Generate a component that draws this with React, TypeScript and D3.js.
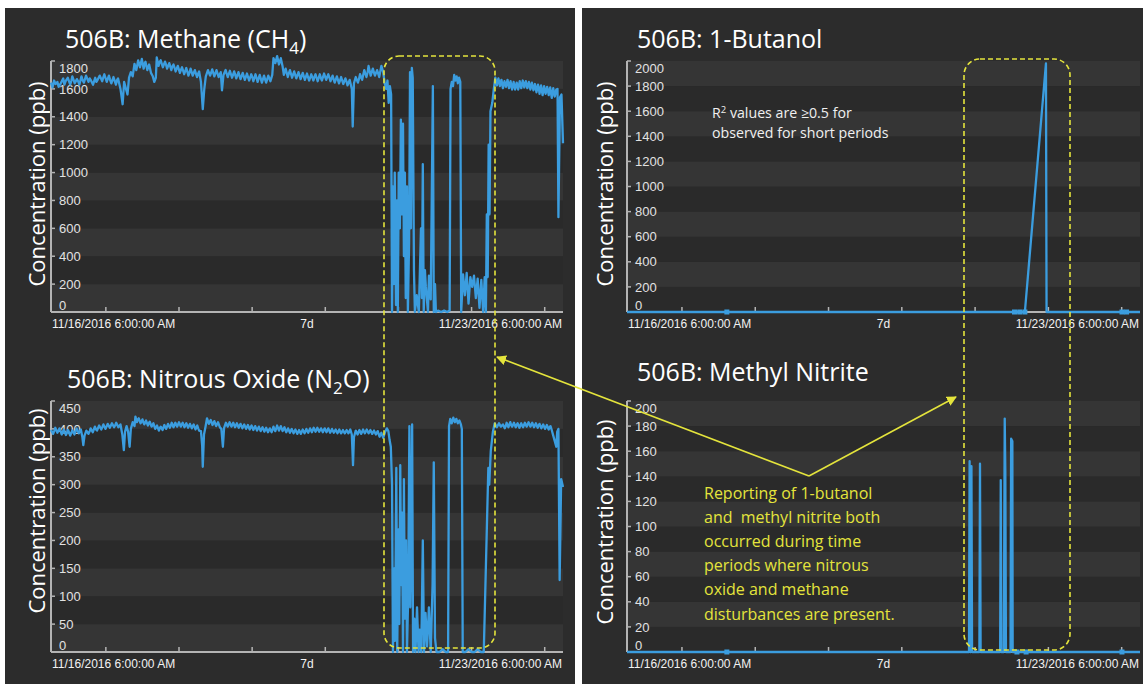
import React from 'react'
import * as d3 from 'd3'

type Pt = [number, number] // [hours after 11/16/2016 6:00 AM, ppb]

const START = new Date(2016, 10, 16, 6, 0, 0)
const END = new Date(2016, 10, 23, 6, 0, 0)

const xTickLabels = ['11/16/2016 6:00:00 AM', '7d', '11/23/2016 6:00:00 AM']

const methaneTicks = [0, 200, 400, 600, 800, 1000, 1200, 1400, 1600, 1800]
const nitrousTicks = [0, 50, 100, 150, 200, 250, 300, 350, 400, 450]
const butanolTicks = [0, 200, 400, 600, 800, 1000, 1200, 1400, 1600, 1800, 2000]
const nitriteTicks = [0, 20, 40, 60, 80, 100, 120, 140, 160, 180, 200]

const methane: Pt[] = [
  [0, 1645], [0.5, 1610], [1, 1660], [1.5, 1635], [2.1, 1650], [2.5, 1615], [3.2, 1640], [4, 1675], [4.4, 1630],
  [4.8, 1655], [5.5, 1680], [6.3, 1630], [6.7, 1660], [7, 1690], [7.8, 1640], [8.5, 1670], [8.9, 1655], [9.3, 1630],
  [10, 1690], [10.4, 1660], [10.8, 1645], [11.5, 1695], [12.3, 1650], [12.7, 1675], [13, 1665], [13.8, 1630],
  [14.5, 1680], [14.9, 1650], [15.3, 1665], [16, 1695], [16.8, 1655], [17.2, 1685], [17.5, 1705], [18.3, 1650],
  [19, 1695], [19.4, 1665], [19.8, 1640], [20.5, 1685], [21.3, 1630], [21.7, 1665], [22, 1675], [22.8, 1600],
  [23.5, 1490], [24, 1650], [24.6, 1600], [25.1, 1560], [25.6, 1680], [26.2, 1720], [26.8, 1690], [27.4, 1780],
  [28, 1735], [28.3, 1770], [28.6, 1805], [29.2, 1755], [29.8, 1815], [30.4, 1745], [30.7, 1780], [31, 1795],
  [31.6, 1735], [32.2, 1775], [32.8, 1715], [33.4, 1690], [33.9, 1650], [34.4, 1680], [34.7, 1825], [35.3, 1765],
  [35.6, 1790], [36, 1805], [36.7, 1755], [37.4, 1795], [37.8, 1770], [38.1, 1745], [38.8, 1785], [39.5, 1735],
  [39.8, 1760], [40.2, 1775], [40.9, 1725], [41.6, 1765], [42.3, 1715], [42.7, 1740], [43, 1755], [43.7, 1705],
  [44.4, 1750], [45.1, 1695], [45.5, 1720], [45.8, 1745], [46.5, 1695], [47.2, 1735], [47.9, 1685], [48.3, 1710],
  [48.6, 1725], [49.2, 1650], [49.8, 1455], [50.3, 1600], [50.8, 1690], [51.5, 1735], [52.2, 1695], [52.6, 1720],
  [52.9, 1740], [53.6, 1690], [54.3, 1735], [55, 1685], [55.7, 1720], [56.1, 1590], [56.6, 1700], [57.3, 1735],
  [57.7, 1705], [58, 1685], [58.7, 1730], [59.4, 1680], [59.8, 1705], [60.1, 1725], [60.8, 1675], [61.5, 1720],
  [61.9, 1690], [62.2, 1670], [62.9, 1715], [63.6, 1665], [64, 1690], [64.3, 1710], [65, 1660], [65.7, 1705],
  [66.1, 1680], [66.4, 1655], [67.1, 1705], [67.8, 1650], [68.2, 1680], [68.5, 1700], [69.2, 1645], [69.9, 1695],
  [70.3, 1665], [70.6, 1645], [71.3, 1695], [72, 1655], [72.6, 1700], [73, 1820], [73.6, 1785], [74.2, 1835],
  [74.8, 1775], [75.4, 1820], [76, 1760], [76.4, 1700], [77, 1745], [77.7, 1685], [78.1, 1715], [78.4, 1735],
  [79.1, 1680], [79.8, 1725], [80.2, 1695], [80.5, 1675], [81.2, 1720], [81.9, 1670], [82.3, 1695], [82.6, 1715],
  [83.3, 1665], [84, 1710], [84.4, 1680], [84.7, 1660], [85.4, 1705], [86.1, 1660], [86.5, 1690], [86.8, 1705],
  [87.5, 1655], [88.2, 1705], [88.6, 1675], [88.9, 1660], [89.6, 1710], [90.3, 1665], [90.7, 1690], [91, 1705],
  [91.7, 1655], [92.4, 1695], [92.8, 1665], [93.1, 1645], [93.8, 1690], [94.5, 1640], [94.9, 1665], [95.2, 1685],
  [95.9, 1635], [96.6, 1675], [97, 1650], [97.3, 1625], [98, 1665], [98.7, 1600], [99, 1330], [99.4, 1640],
  [100, 1685], [100.7, 1645], [101.1, 1675], [101.4, 1705], [102.1, 1665], [102.8, 1735], [103.5, 1685],
  [103.9, 1720], [104.2, 1765], [104.9, 1695], [105.6, 1745], [106, 1715], [106.3, 1695], [107, 1735],
  [107.7, 1685], [108.4, 1765], [109, 1720], [109.5, 1640], [110, 1600], [110.4, 1660], [110.8, 1500],
  [111.2, 1620], [111.6, 1560],
  [111.9, 0], [112.2, 900], [112.5, 200], [112.8, 1000], [113.2, 50], [113.5, 800], [113.8, 0], [114.1, 1000],
  [114.5, 600], [114.8, 1380], [115.1, 700], [115.5, 1350], [115.8, 400], [116.1, 1000], [116.4, 100], [116.8, 900],
  [117.1, 0], [117.5, 500], [117.8, 1720], [118.1, 600], [118.4, 1750], [118.7, 1680], [119.1, 300], [119.4, 0],
  [120, 120], [120.7, 0], [121.4, 600], [121.7, 100], [122, 1060], [122.3, 0], [122.7, 300], [123, 180],
  [123.7, 0], [124, 260], [124.6, 90], [125.3, 1620], [125.6, 0], [126, 200], [126.3, 0], [127, 10],
  [128, 0], [129, 10], [130, 0], [130.8, 10], [131.1, 1600], [131.5, 1650], [131.9, 1620], [132.3, 1700],
  [132.7, 1660], [133.1, 1690], [133.5, 1640], [133.9, 1680], [134.3, 1650], [134.6, 0], [135.2, 270], [135.8, 120],
  [136.4, 280], [137, 60], [137.6, 250], [138.2, 180], [138.8, 260], [139.4, 100], [140, 240], [140.6, 30],
  [141.2, 230], [141.8, 0], [142.3, 250], [142.7, 0], [143, 700], [143.3, 250], [143.6, 1200], [143.9, 700],
  [144.2, 1440], [144.8, 1500], [145.3, 1600], [145.8, 1680],
  [146.3, 1625], [146.8, 1675], [147.1, 1645], [147.3, 1620], [147.8, 1665], [148.3, 1605], [148.8, 1655],
  [149.1, 1630], [149.3, 1615], [149.8, 1665], [150.3, 1605], [150.6, 1635], [150.8, 1655], [151.3, 1595],
  [151.8, 1650], [152.3, 1595], [152.6, 1625], [152.8, 1645], [153.3, 1595], [153.8, 1655], [154.1, 1625],
  [154.3, 1605], [154.8, 1660], [155.3, 1610], [155.6, 1640], [155.8, 1655], [156.3, 1605], [156.8, 1650],
  [157.1, 1620], [157.3, 1595], [157.8, 1645], [158.3, 1590], [158.6, 1615], [158.8, 1635], [159.3, 1575],
  [159.8, 1630], [160.1, 1600], [160.3, 1565], [160.8, 1625], [161.3, 1555], [161.6, 1590], [161.8, 1620],
  [162.3, 1565], [162.8, 1615], [163.1, 1585], [163.3, 1555], [163.8, 1610], [164.3, 1535], [164.6, 1575],
  [164.8, 1605], [165.3, 1545], [165.8, 1595],
  [166.2, 1600], [166.5, 680], [167, 1540], [167.5, 1560], [168, 1210],
]

const nitrous: Pt[] = [
  [0, 398], [0.7, 391], [1.1, 397], [1.4, 402], [2.1, 393], [2.8, 401], [3.2, 395], [3.5, 390], [4.2, 399],
  [4.9, 389], [5.3, 394], [5.6, 398], [6.3, 388], [7, 397], [7.4, 393], [7.7, 390], [8.4, 401], [9.1, 392],
  [9.5, 396], [9.8, 399], [10.3, 385], [10.6, 371], [11, 388], [11.6, 397], [12.3, 391], [12.7, 396], [13, 401],
  [13.7, 394], [14.4, 404], [14.8, 399], [15.1, 397], [15.8, 406], [16.5, 399], [16.9, 404], [17.2, 408],
  [17.9, 400], [18.6, 409], [19, 405], [19.3, 402], [20, 410], [20.7, 403], [21.1, 407], [21.4, 411], [22.1, 403],
  [22.8, 408], [23.4, 390], [23.9, 362], [24.3, 395], [24.8, 405], [25.3, 395], [25.8, 368], [26.2, 400],
  [26.8, 412], [27.4, 405], [27.7, 422], [28.2, 412], [28.5, 417], [28.8, 419], [29.4, 410], [30, 417],
  [30.3, 412], [30.6, 408], [31.2, 415], [31.8, 406], [32.1, 410], [32.4, 413], [33, 404], [33.6, 410],
  [33.9, 405], [34.2, 400], [34.8, 406], [35.4, 397], [35.7, 401], [36, 404], [36.6, 398], [37.2, 407],
  [37.5, 403], [37.8, 400], [38.4, 409], [39, 402], [39.3, 406], [39.6, 411], [40.2, 403], [40.8, 411],
  [41.1, 407], [41.4, 404], [42, 412], [42.6, 404], [42.9, 408], [43.2, 411], [43.8, 403], [44.4, 410],
  [44.7, 406], [45, 402], [45.6, 409], [46.2, 401], [46.5, 405], [46.8, 408], [47.4, 399], [48, 406],
  [48.3, 401], [48.6, 397], [49.2, 396], [49.6, 370], [49.8, 332], [50.2, 390], [50.7, 404], [51.2, 419],
  [51.8, 409], [52.1, 413], [52.4, 416], [53, 407], [53.6, 414], [53.9, 409], [54.2, 405], [54.8, 412],
  [55.4, 403], [55.9, 400], [56.4, 368], [56.8, 402], [57.4, 411], [58, 404], [58.3, 408], [58.6, 412],
  [59.2, 404], [59.8, 411], [60.1, 407], [60.4, 403], [61, 410], [61.6, 402], [61.9, 406], [62.2, 409],
  [62.8, 401], [63.4, 408], [63.7, 404], [64, 400], [64.6, 407], [65.2, 399], [65.5, 403], [65.8, 406],
  [66.4, 398], [67, 405], [67.3, 401], [67.6, 397], [68.2, 404], [68.8, 396], [69.1, 400], [69.4, 403],
  [70, 395], [70.6, 402], [70.9, 398], [71.2, 394], [71.8, 401], [72.4, 394], [73, 404], [73.3, 399],
  [73.6, 396], [74.2, 406], [74.8, 397], [75.1, 401], [75.4, 405], [76, 396], [76.6, 403], [76.9, 398],
  [77.2, 394], [77.8, 401], [78.4, 393], [78.7, 397], [79, 400], [79.6, 392], [80.2, 399], [80.5, 395],
  [80.8, 391], [81.4, 398], [82, 391], [82.3, 395], [82.6, 399], [83.2, 392], [83.8, 400], [84.1, 396],
  [84.4, 393], [85, 401], [85.6, 394], [85.9, 398], [86.2, 402], [86.8, 395], [87.4, 402], [87.7, 398],
  [88, 395], [88.6, 401], [89.2, 394], [89.5, 398], [89.8, 401], [90.4, 394], [91, 401], [91.3, 397],
  [91.6, 393], [92.2, 400], [92.8, 393], [93.1, 396], [93.4, 399], [94, 392], [94.6, 399], [94.9, 395],
  [95.2, 392], [95.8, 398], [96.4, 392], [96.7, 395], [97, 398], [97.6, 392], [98.2, 399], [98.7, 390],
  [99.1, 335], [99.4, 385], [100, 397], [100.6, 390], [100.9, 394], [101.2, 398], [101.8, 391], [102.4, 399],
  [102.7, 395], [103, 392], [103.6, 399], [104.2, 392], [104.5, 395], [104.8, 398], [105.4, 391], [106, 397],
  [106.3, 393], [106.6, 390], [107.2, 396], [107.8, 386], [108.4, 393], [109, 384], [109.6, 394], [110.2, 401],
  [110.7, 396], [111.1, 380], [111.5, 368],
  [111.9, 300], [112.2, 0], [112.6, 150], [112.9, 20], [113.3, 330], [113.6, 0], [114, 220], [114.3, 50],
  [114.6, 335], [114.9, 120], [115.2, 250], [115.5, 0], [115.8, 310], [116.1, 60], [116.5, 200], [116.8, 0],
  [117.2, 100], [117.6, 405], [117.9, 80], [118.2, 220], [118.5, 408], [118.8, 0], [119.2, 60], [119.6, 0],
  [120.1, 80], [120.6, 0], [121, 40], [121.5, 0], [122, 200], [122.4, 0], [122.9, 70], [123.4, 10],
  [124, 80], [124.6, 0], [125.2, 120], [125.6, 340], [126, 25], [126.5, 0], [127.5, 0], [128.5, 5],
  [129.5, 0], [130.3, 0], [130.6, 405], [131, 418], [131.5, 410], [132, 420], [132.5, 412], [133, 418],
  [133.5, 410], [134, 415], [134.5, 408], [134.8, 400], [135.1, 0], [136, 0], [137, 5], [138, 0],
  [139, 0], [140, 5], [141, 0], [142, 0], [143.5, 330], [143.8, 300], [144.3, 360], [145, 395],
  [145.6, 410], [146.3, 403], [147, 410], [147.6, 404],
  [148.3, 408], [148.9, 401], [149.2, 405], [149.5, 411], [150.1, 403], [150.7, 412], [151, 407], [151.3, 404],
  [151.9, 411], [152.5, 403], [152.8, 407], [153.1, 410], [153.7, 402], [154.3, 410], [154.6, 406], [154.9, 403],
  [155.5, 411], [156.1, 404], [156.4, 408], [156.7, 412], [157.3, 404], [157.9, 411], [158.2, 407], [158.5, 403],
  [159.1, 410], [159.7, 402], [160, 406], [160.3, 409], [160.9, 401], [161.5, 408], [161.8, 404], [162.1, 400],
  [162.7, 407], [163.3, 399], [163.6, 403], [163.9, 405], [164.3, 398], [164.8, 388], [165.3, 378], [165.8, 368],
  [166.1, 395], [166.5, 400], [166.9, 129], [167.4, 310], [168, 296],
]

const butanol: Pt[] = [
  [0, 0], [32.7, 0], [126.9, 0], [128.6, 0], [130.3, 0], [137.2, 1980], [137.4, 0], [162.1, 0], [168, 0],
]
const butanolMarkers = [32.7, 126.9, 128.6, 130.3, 162.1, 163.6]

const nitrite: Pt[] = [
  [0, 0], [32.7, 0], [112.0, 0], [112.2, 152], [112.4, 0], [112.6, 0], [112.8, 148], [113.0, 0],
  [115.4, 0], [115.6, 150], [115.8, 0], [122.2, 0], [122.4, 137], [122.6, 0], [123.4, 0], [123.7, 186],
  [123.9, 143], [124.1, 0], [125.6, 0], [125.8, 170], [126.2, 168], [126.3, 0], [127.7, 0], [130.7, 0],
  [162.1, 0], [168, 0],
]
const nitriteMarkers = [32.7, 127.7, 130.7, 162.1]

const at = (h: number) => new Date(START.getTime() + h * 3600000)

const BLUE = '#3b9ddf'
const YELLOW = '#e4e43c'

type PanelProps = {
  x0: number
  x1: number
  y0: number
  y1: number
  ticks: number[]
  points: Pt[]
  markers?: number[]
  title: React.ReactNode
  titleX: number
  titleY: number
  labelX: number
  labelY: number
}

function Panel(p: PanelProps) {
  const x = d3.scaleTime().domain([START, END]).range([p.x0, p.x1])
  const y = d3.scaleLinear().domain([0, p.ticks[p.ticks.length - 1]]).range([p.y1, p.y0])
  const line = d3.line<Pt>().x(d => x(at(d[0]))).y(d => y(d[1]))
  const days = x.ticks(d3.timeDay.every(1) as d3.TimeInterval)
  const n = p.ticks.length
  return (
    <g>
      {p.ticks.slice(1).map((t, i) => (
        <rect key={t} x={p.x0} y={y(t)} width={p.x1 - p.x0} height={y(p.ticks[i]) - y(t)}
          fill={(n - 2 - i) % 2 === 0 ? '#353535' : '#2a2a2a'} />
      ))}
      <text x={p.titleX} y={p.titleY} fill="#fff" fontFamily="'Open Sans', sans-serif" fontSize={25}>{p.title}</text>
      <text transform={`translate(${p.labelX},${p.labelY}) rotate(-90)`} textAnchor="middle" fill="#fff"
        fontFamily="'Open Sans', sans-serif" fontSize={22}>Concentration (ppb)</text>
      <line x1={p.x0} x2={p.x0} y1={p.y0} y2={p.y1} stroke="#b4b4b4" strokeWidth={2} />
      <line x1={p.x0} x2={p.x1} y1={p.y1} y2={p.y1} stroke="#b4b4b4" strokeWidth={2} />
      {p.ticks.map(t => {
        const ty = Math.min(Math.max(y(t), p.y0 + 7), p.y1 - 7)
        return (
          <g key={t}>
            <line x1={p.x0} x2={p.x0 + 4} y1={y(t)} y2={y(t)} stroke="#b4b4b4" strokeWidth={1.5} />
            <text x={p.x0 + 8} y={ty} dy="0.36em" fill="#e2e2e2" fontFamily="'Liberation Sans', Arial, sans-serif"
              fontSize={13}>{t}</text>
          </g>
        )
      })}
      {days.map(d => (
        <line key={+d} x1={x(d)} x2={x(d)} y1={p.y1} y2={p.y1 - 5} stroke="#b4b4b4" strokeWidth={1.5} />
      ))}
      <g fill="#f2f2f2" fontFamily="'Liberation Sans', Arial, sans-serif" fontSize={12}>
        <text x={p.x0 + 1} y={p.y1 + 16}>{xTickLabels[0]}</text>
        <text x={(p.x0 + p.x1) / 2} y={p.y1 + 16} textAnchor="middle">{xTickLabels[1]}</text>
        <text x={p.x1 - 1} y={p.y1 + 16} textAnchor="end">{xTickLabels[2]}</text>
      </g>
      <path d={line(p.points) ?? ''} fill="none" stroke={BLUE} strokeWidth={2.3} strokeLinejoin="round" />
      {(p.markers ?? []).map(h => (
        <rect key={h} x={x(at(h)) - 2.5} y={p.y1 - 2.5} width={5} height={5} fill={BLUE} />
      ))}
    </g>
  )
}

export default function App() {
  const sub = (s: string) => <tspan dy={6} fontSize={17}>{s}</tspan>
  return (
    <svg width={1143} height={684} style={{ position: 'absolute', left: 0, top: 0, background: '#fff' }}>
      <defs>
        <marker id="arrow" viewBox="0 0 10 10" refX={9} refY={5} markerWidth={10} markerHeight={10}
          markerUnits="userSpaceOnUse" orient="auto">
          <path d="M0,0 L10,5 L0,10 z" fill={YELLOW} />
        </marker>
      </defs>
      <rect x={5} y={8} width={570} height={676} fill="#2c2c2c" />
      <rect x={582} y={8} width={561} height={676} fill="#2c2c2c" />

      <Panel x0={51} x1={563} y0={61} y1={312} ticks={methaneTicks} points={methane}
        title={<>506B: Methane (CH{sub('4')}<tspan dy={-6}>)</tspan></>}
        titleX={65} titleY={48} labelX={45} labelY={184} />
      <Panel x0={51} x1={563} y0={401} y1={652} ticks={nitrousTicks} points={nitrous}
        title={<>506B: Nitrous Oxide (N{sub('2')}<tspan dy={-6}>O)</tspan></>}
        titleX={67} titleY={388} labelX={45} labelY={511} />
      <Panel x0={627} x1={1140} y0={61} y1={312} ticks={butanolTicks} points={butanol} markers={butanolMarkers}
        title="506B: 1-Butanol" titleX={637} titleY={48} labelX={613} labelY={184} />
      <Panel x0={627} x1={1140} y0={401} y1={652} ticks={nitriteTicks} points={nitrite} markers={nitriteMarkers}
        title="506B: Methyl Nitrite" titleX={637} titleY={381} labelX={613} labelY={522} />

      <g fill="#f0f0f0" fontFamily="'Open Sans', sans-serif" fontSize={14.2}>
        <text x={712} y={118}>R<tspan dy={-5} fontSize={9.5}>2</tspan><tspan dy={5}> values are ≥0.5 for</tspan></text>
        <text x={712} y={138}>observed for short periods</text>
      </g>

      <rect x={384} y={56} width={111} height={592} rx={15} fill="none" stroke={YELLOW} strokeWidth={1.6}
        strokeDasharray="5,3" />
      <rect x={964} y={59} width={106} height={591} rx={16} fill="none" stroke={YELLOW} strokeWidth={1.6}
        strokeDasharray="5,3" />

      <line x1={809} y1={476} x2={497} y2={357} stroke={YELLOW} strokeWidth={1.6} markerEnd="url(#arrow)" />
      <line x1={809} y1={476} x2={956} y2={397} stroke={YELLOW} strokeWidth={1.6} markerEnd="url(#arrow)" />

      <g fill={YELLOW} fontFamily="'Open Sans', sans-serif" fontSize={16}>
        <text x={704} y={499}>Reporting of 1-butanol</text>
        <text x={704} y={523} style={{ whiteSpace: 'pre' }}>and  methyl nitrite both</text>
        <text x={704} y={547}>occurred during time</text>
        <text x={704} y={571}>periods where nitrous</text>
        <text x={704} y={595}>oxide and methane</text>
        <text x={704} y={620}>disturbances are present.</text>
      </g>
    </svg>
  )
}
